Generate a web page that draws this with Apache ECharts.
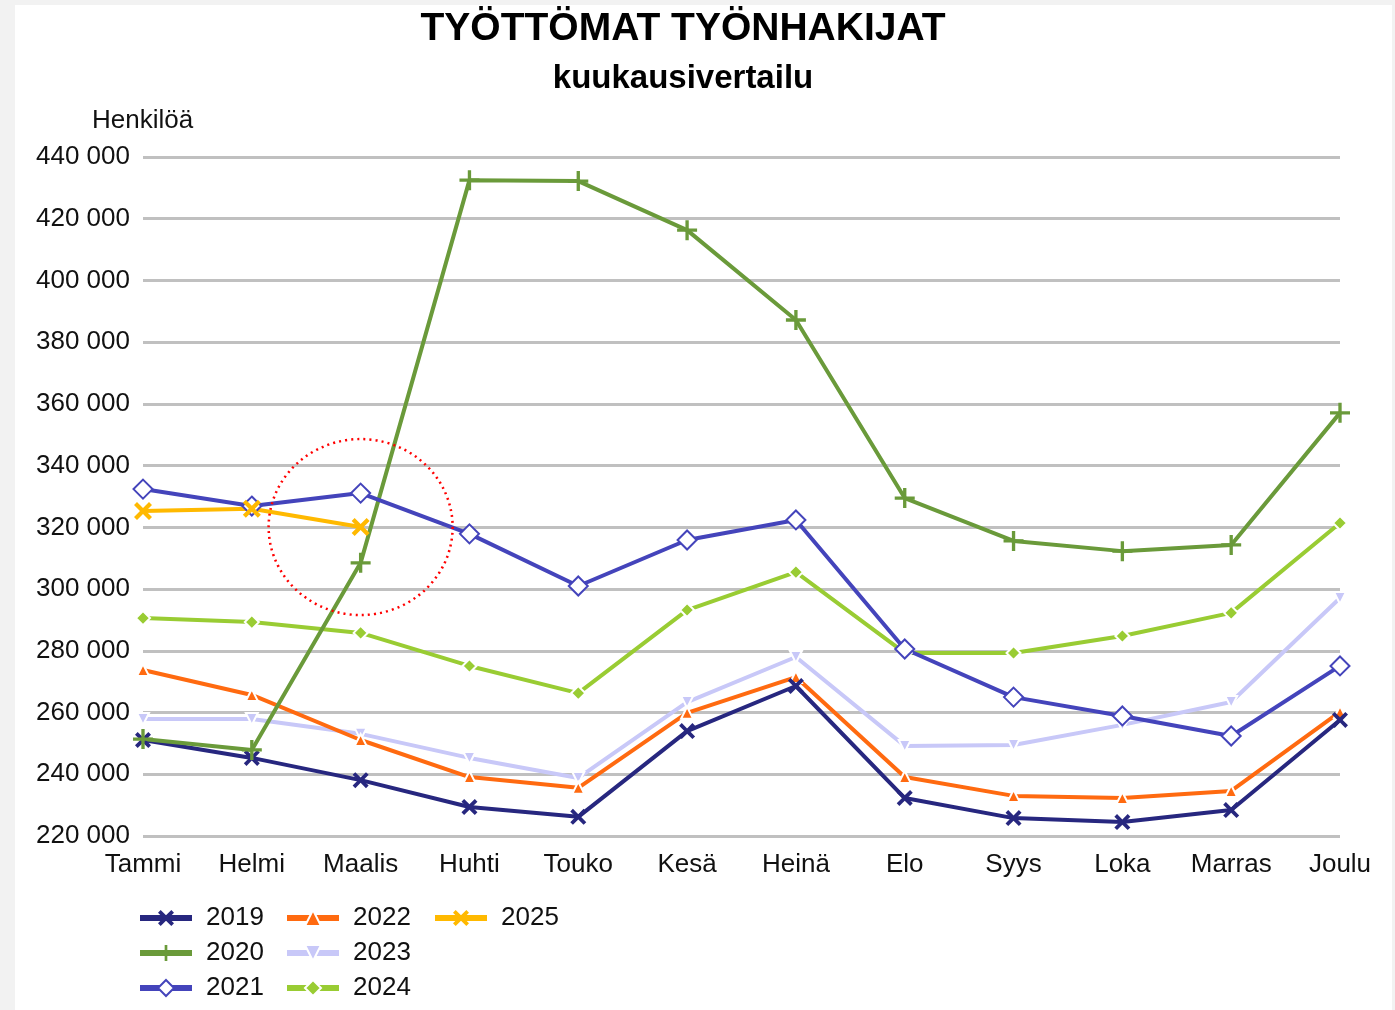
<!DOCTYPE html>
<html>
<head>
<meta charset="utf-8">
<script src="https://cdn.jsdelivr.net/npm/echarts@6/dist/echarts.min.js"></script>
<style>
    body { margin: 0; background: #f2f2f2; }
    #main { position: absolute; left: 15px; top: 5px; width: 1377px; height: 1005px; background: #fff; }
</style>
</head>
<body>
<div id="main"></div>
<script>
    // kuukaudet
    var months = ['Tammi', 'Helmi', 'Maalis', 'Huhti', 'Touko', 'Kesä', 'Heinä', 'Elo', 'Syys', 'Loka', 'Marras', 'Joulu'];
    var yTicks = [220000, 240000, 260000, 280000, 300000, 320000, 340000, 360000, 380000, 400000, 420000, 440000];

    // työttömät työnhakijat vuosittain
    var y2019 = [251100, 245300, 238100, 229400, 226200, 254000, 268600, 232300, 225800, 224500, 228400, 257600];
    var y2020 = [251400, 247900, 308500, 432500, 432200, 416300, 387200, 329500, 315600, 312300, 314300, 357100];
    var y2021 = [332400, 326900, 331100, 317900, 301000, 315900, 322400, 280600, 265000, 258900, 252400, 275100];
    var y2022 = [273800, 265700, 251100, 239100, 235600, 259900, 271500, 239100, 233000, 232300, 234600, 260200];
    var y2023 = [257900, 257900, 253100, 245300, 238800, 263400, 278000, 249200, 249500, 256000, 263400, 297100];
    var y2024 = [290600, 289300, 285800, 275100, 266300, 293200, 305500, 279300, 279300, 284800, 292300, 321400];
    var y2025 = [325300, 326000, 320100];

    var FONT = '"Liberation Sans", Arial, sans-serif';
    var X_PATH = 'path://M2,0 L6,4 L10,0 L12,2 L8,6 L12,10 L10,12 L6,8 L2,12 L0,10 L4,6 L0,2 Z';
    var PLUS_PATH = 'path://M5,0 H7 V5 H12 V7 H7 V12 H5 V7 H0 V5 H5 Z';

    function fmt(v) {
        return String(v).replace(/\B(?=(\d{3})+(?!\d))/g, ' ');
    }

    function line(name, data, color, symbol, size, extra) {
        var s = {
            name: name,
            type: 'line',
            data: data,
            symbol: symbol,
            symbolSize: size,
            showAllSymbol: true,
            lineStyle: { color: color, width: 4 },
            itemStyle: { color: color },
            emphasis: { disabled: true }
        };
        return Object.assign(s, extra || {});
    }

    var legendText = { fontSize: 26, fontFamily: FONT, color: '#111', padding: [0, 0, 0, 9] };
    function legend(left, names) {
        return {
            left: left, top: 900, height: 140, padding: 0, orient: 'vertical',
            itemWidth: 52, itemHeight: 20, itemGap: 9,
            lineStyle: { width: 6 },
            textStyle: legendText, data: names, selectedMode: false
        };
    }

    var chart = echarts.init(document.getElementById('main'));

    var option = {
        animation: false,
        textStyle: { fontFamily: FONT },
        graphic: [
            { type: 'text', x: 668, y: 24, style: { text: 'TYÖTTÖMAT TYÖNHAKIJAT', font: 'bold 39px ' + FONT, fill: '#000', textAlign: 'center', textVerticalAlign: 'middle' } },
            { type: 'text', x: 668, y: 74, style: { text: 'kuukausivertailu', font: 'bold 33px ' + FONT, fill: '#000', textAlign: 'center', textVerticalAlign: 'middle' } },
            { type: 'text', x: 77, y: 116, style: { text: 'Henkilöä', font: '26px ' + FONT, fill: '#111', textAlign: 'left', textVerticalAlign: 'middle' } }
        ],
        legend: [
            legend(122, ['2019', '2020', '2021']),
            legend(269, ['2022', '2023', '2024']),
            legend(417, ['2025'])
        ],
        grid: { left: 128, right: 52, top: 152, bottom: 174, containLabel: false },
        xAxis: {
            type: 'category',
            data: months,
            boundaryGap: false,
            axisLine: { show: false },
            axisTick: { show: false },
            axisLabel: { fontSize: 26, color: '#111', margin: 16, interval: 0 }
        },
        yAxis: {
            type: 'value',
            min: yTicks[0],
            max: yTicks[yTicks.length - 1],
            interval: 20000,
            axisLine: { show: false },
            axisTick: { show: false },
            axisLabel: { fontSize: 26, color: '#111', margin: 13, formatter: fmt },
            splitLine: { lineStyle: { color: '#c0c0c0', width: 3 } }
        },
        series: [
            line('2023', y2023, '#c8c8f8', 'triangle', 12, { symbolRotate: 180, itemStyle: { color: '#c8c8f8', borderColor: '#fff', borderWidth: 2 } }),
            line('2022', y2022, '#ff6a10', 'triangle', 12, { itemStyle: { color: '#ff6a10', borderColor: '#fff', borderWidth: 2 } }),
            line('2024', y2024, '#99cc33', 'diamond', 14, { itemStyle: { color: '#99cc33', borderColor: '#fff', borderWidth: 2 } }),
            line('2019', y2019, '#27277f', X_PATH, 16),
            line('2020', y2020, '#6a9a3a', PLUS_PATH, 20),
            line('2021', y2021, '#4444bb', 'emptyDiamond', 19, { itemStyle: { color: '#4444bb', borderColor: '#4444bb', borderWidth: 3.5 } }),
            line('2025', y2025, '#ffb900', X_PATH, 18, {
                markPoint: {
                    silent: true,
                    symbol: 'circle',
                    symbolSize: [184, 176],
                    label: { show: false },
                    itemStyle: { color: 'rgba(0,0,0,0)', borderColor: '#ff0000', borderWidth: 2.5, borderType: [2, 4] },
                    data: [{ coord: [months[2], y2025[2]] }]
                }
            })
        ]
    };

    chart.setOption(option);
</script>
</body>
</html>
